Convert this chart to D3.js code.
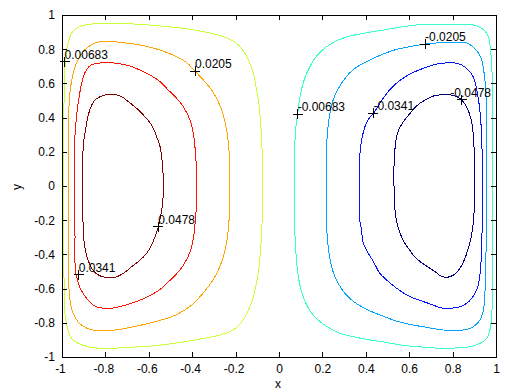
<!DOCTYPE html>
<html><head><meta charset="utf-8">
<script src="https://cdn.jsdelivr.net/npm/d3@7"></script>
<style>
html,body{margin:0;padding:0;background:#fff;}
svg{display:block;font-family:"Liberation Sans",Arial,Helvetica,sans-serif;}
</style></head><body>
<svg id="chart" width="510" height="392"></svg>
<script>
// ---- axis ticks ----
const xTicks = [-1,-0.8,-0.6,-0.4,-0.2,0,0.2,0.4,0.6,0.8,1];
const xTickLabels = ["-1","-0.8","-0.6","-0.4","-0.2","0","0.2","0.4","0.6","0.8","1"];
const yTicks = [-1,-0.8,-0.6,-0.4,-0.2,0,0.2,0.4,0.6,0.8,1];
const yTickLabels = ["-1","-0.8","-0.6","-0.4","-0.2","0","0.2","0.4","0.6","0.8","1"];
const xLabel = "x";
const yLabel = "y";

// ---- contour levels and colours (jet) ----
const levels = [0.0478, 0.0341, 0.0205, 0.00683, -0.00683, -0.0205, -0.0341, -0.0478];
const levelColors = ["#800000","#ff1200","#ffa400","#c9ff36","#36ffc9","#00a4ff","#0012ff","#000080"];

// ---- contour loops, [x, y] in data units ----
const contourP0478 = [[-0.903,-0.218],[-0.906,0],[-0.905,0.152],[-0.899,0.269],[-0.889,0.347],[-0.879,0.415],[-0.863,0.474],[-0.848,0.503],[-0.825,0.522],[-0.794,0.534],[-0.760,0.536],[-0.725,0.522],[-0.694,0.493],[-0.656,0.454],[-0.625,0.415],[-0.598,0.376],[-0.579,0.337],[-0.564,0.289],[-0.548,0.230],[-0.541,0.172],[-0.535,0.094],[-0.533,0],[-0.536,-0.101],[-0.545,-0.170],[-0.556,-0.238],[-0.571,-0.296],[-0.587,-0.345],[-0.610,-0.394],[-0.648,-0.442],[-0.679,-0.472],[-0.717,-0.511],[-0.756,-0.534],[-0.802,-0.534],[-0.833,-0.520],[-0.856,-0.495],[-0.874,-0.452],[-0.889,-0.394],[-0.899,-0.316]];
const contourP0341 = [[-0.940,-0.30],[-0.942,0],[-0.940,0.30],[-0.930,0.44],[-0.920,0.53],[-0.911,0.591],[-0.903,0.630],[-0.888,0.678],[-0.865,0.708],[-0.834,0.718],[-0.790,0.721],[-0.733,0.715],[-0.687,0.702],[-0.641,0.678],[-0.594,0.649],[-0.548,0.610],[-0.510,0.561],[-0.472,0.513],[-0.441,0.464],[-0.410,0.386],[-0.395,0.308],[-0.386,0.211],[-0.380,0.074],[-0.379,-0.074],[-0.386,-0.211],[-0.395,-0.308],[-0.410,-0.386],[-0.441,-0.464],[-0.472,-0.513],[-0.510,-0.561],[-0.548,-0.605],[-0.594,-0.640],[-0.641,-0.668],[-0.702,-0.695],[-0.763,-0.713],[-0.800,-0.715],[-0.834,-0.710],[-0.857,-0.696],[-0.880,-0.667],[-0.903,-0.628],[-0.919,-0.589],[-0.929,-0.550],[-0.938,-0.491],[-0.941,-0.374]];
const contourP0205 = [[-0.970,-0.40],[-0.971,0],[-0.970,0.40],[-0.962,0.561],[-0.952,0.639],[-0.945,0.678],[-0.934,0.717],[-0.919,0.756],[-0.896,0.795],[-0.865,0.825],[-0.826,0.844],[-0.788,0.846],[-0.733,0.840],[-0.641,0.825],[-0.548,0.795],[-0.472,0.756],[-0.425,0.721],[-0.387,0.672],[-0.349,0.620],[-0.310,0.561],[-0.280,0.493],[-0.257,0.415],[-0.241,0.327],[-0.232,0.230],[-0.227,0.113],[-0.226,0],[-0.227,-0.113],[-0.232,-0.230],[-0.241,-0.327],[-0.257,-0.415],[-0.280,-0.493],[-0.310,-0.561],[-0.349,-0.625],[-0.402,-0.696],[-0.472,-0.752],[-0.548,-0.786],[-0.641,-0.815],[-0.733,-0.838],[-0.788,-0.846],[-0.834,-0.846],[-0.872,-0.838],[-0.903,-0.819],[-0.926,-0.794],[-0.941,-0.764],[-0.954,-0.725],[-0.963,-0.667],[-0.969,-0.569]];
const contourP0068 = [[-0.992,-0.45],[-0.993,-0.2],[-0.993,0.2],[-0.991,0.45],[-0.990,0.561],[-0.988,0.639],[-0.985,0.717],[-0.980,0.776],[-0.976,0.815],[-0.968,0.854],[-0.957,0.893],[-0.941,0.916],[-0.911,0.936],[-0.865,0.947],[-0.803,0.951],[-0.733,0.951],[-0.641,0.945],[-0.548,0.936],[-0.441,0.922],[-0.364,0.906],[-0.287,0.885],[-0.226,0.858],[-0.187,0.825],[-0.157,0.776],[-0.134,0.717],[-0.118,0.659],[-0.106,0.581],[-0.095,0.503],[-0.088,0.425],[-0.080,0.269],[-0.077,0.172],[-0.075,0.074],[-0.075,-0.074],[-0.077,-0.172],[-0.080,-0.269],[-0.088,-0.425],[-0.095,-0.503],[-0.106,-0.581],[-0.118,-0.647],[-0.134,-0.705],[-0.157,-0.765],[-0.185,-0.815],[-0.222,-0.850],[-0.287,-0.876],[-0.364,-0.895],[-0.441,-0.912],[-0.518,-0.926],[-0.594,-0.936],[-0.671,-0.942],[-0.750,-0.948],[-0.803,-0.950],[-0.865,-0.944],[-0.896,-0.934],[-0.926,-0.920],[-0.949,-0.901],[-0.965,-0.871],[-0.976,-0.823],[-0.985,-0.764],[-0.988,-0.667]];
const contourM0068 = [[0.072,-0.218],[0.071,0],[0.072,0.211],[0.078,0.347],[0.086,0.421],[0.094,0.503],[0.105,0.571],[0.120,0.635],[0.140,0.692],[0.165,0.747],[0.197,0.791],[0.243,0.834],[0.304,0.869],[0.389,0.893],[0.481,0.912],[0.573,0.932],[0.665,0.945],[0.742,0.947],[0.820,0.946],[0.895,0.942],[0.934,0.922],[0.957,0.893],[0.969,0.854],[0.975,0.795],[0.980,0.717],[0.984,0.561],[0.986,0.30],[0.986,0],[0.985,-0.374],[0.983,-0.667],[0.980,-0.764],[0.972,-0.842],[0.957,-0.891],[0.926,-0.920],[0.880,-0.940],[0.800,-0.948],[0.742,-0.949],[0.665,-0.942],[0.573,-0.932],[0.481,-0.912],[0.404,-0.897],[0.327,-0.877],[0.273,-0.858],[0.235,-0.832],[0.189,-0.793],[0.151,-0.745],[0.120,-0.675],[0.100,-0.600],[0.087,-0.511],[0.077,-0.374]];
const contourM0205 = [[0.221,-0.269],[0.220,0],[0.221,0.269],[0.226,0.347],[0.235,0.425],[0.247,0.493],[0.266,0.552],[0.293,0.610],[0.324,0.659],[0.366,0.702],[0.419,0.737],[0.481,0.772],[0.542,0.799],[0.604,0.815],[0.673,0.830],[0.742,0.838],[0.803,0.842],[0.850,0.840],[0.872,0.834],[0.895,0.811],[0.918,0.780],[0.934,0.737],[0.942,0.688],[0.949,0.620],[0.953,0.561],[0.956,0.30],[0.957,0],[0.955,-0.30],[0.953,-0.45],[0.949,-0.628],[0.942,-0.725],[0.926,-0.784],[0.895,-0.823],[0.865,-0.838],[0.819,-0.846],[0.742,-0.840],[0.673,-0.825],[0.604,-0.810],[0.542,-0.790],[0.481,-0.762],[0.419,-0.730],[0.366,-0.695],[0.324,-0.655],[0.293,-0.610],[0.266,-0.552],[0.247,-0.493],[0.235,-0.425],[0.226,-0.347]];
const contourM0341 = [[0.372,-0.20],[0.370,0],[0.372,0.113],[0.373,0.191],[0.381,0.269],[0.396,0.347],[0.412,0.390],[0.435,0.425],[0.458,0.468],[0.480,0.513],[0.512,0.565],[0.558,0.618],[0.604,0.655],[0.665,0.688],[0.727,0.713],[0.788,0.721],[0.803,0.721],[0.842,0.708],[0.872,0.678],[0.895,0.639],[0.905,0.600],[0.913,0.550],[0.922,0.480],[0.930,0.380],[0.936,0.20],[0.938,0],[0.936,-0.20],[0.934,-0.374],[0.923,-0.550],[0.911,-0.608],[0.888,-0.657],[0.865,-0.686],[0.834,-0.706],[0.788,-0.715],[0.742,-0.712],[0.711,-0.696],[0.665,-0.676],[0.604,-0.647],[0.542,-0.598],[0.496,-0.550],[0.465,-0.511],[0.435,-0.442],[0.412,-0.394],[0.389,-0.335],[0.378,-0.238]];
const contourM0478 = [[0.531,-0.10],[0.530,0],[0.530,0.113],[0.533,0.191],[0.539,0.269],[0.551,0.327],[0.573,0.376],[0.604,0.425],[0.634,0.468],[0.673,0.503],[0.711,0.526],[0.750,0.534],[0.788,0.534],[0.819,0.522],[0.842,0.503],[0.862,0.468],[0.877,0.425],[0.889,0.366],[0.896,0.288],[0.900,0.191],[0.902,0.074],[0.902,-0.074],[0.899,-0.150],[0.892,-0.250],[0.882,-0.320],[0.870,-0.374],[0.855,-0.430],[0.834,-0.481],[0.811,-0.515],[0.788,-0.530],[0.770,-0.534],[0.745,-0.526],[0.719,-0.501],[0.680,-0.468],[0.650,-0.442],[0.619,-0.404],[0.596,-0.364],[0.576,-0.326],[0.558,-0.277],[0.542,-0.209],[0.533,-0.121]];
const contourLoops = [contourP0478, contourP0341, contourP0205, contourP0068, contourM0068, contourM0205, contourM0341, contourM0478];

// ---- contour labels (clabel '+' markers) ----
const labelTexts = ["0.00683","0.0205","0.0341","0.0478","-0.00683","-0.0205","-0.0341","-0.0478"];
const labelX = [-0.988,-0.387,-0.923,-0.556,0.086,0.673,0.435,0.842];
const labelY = [0.727,0.672,-0.520,-0.238,0.421,0.830,0.425,0.503];

// ---- layout ----
const W = 510, H = 392;
const plot = {left: 62, right: 496, top: 15, bottom: 357};
const svg = d3.select("#chart");

const x = d3.scaleLinear().domain([-1, 1]).range([plot.left, plot.right]);
const y = d3.scaleLinear().domain([-1, 1]).range([plot.bottom, plot.top]);

svg.append("rect").attr("width", W).attr("height", H).attr("fill", "#fff");

// contours
const line = d3.line().x(d => x(d[0])).y(d => y(d[1])).curve(d3.curveCatmullRomClosed.alpha(0.5));
svg.append("g").selectAll("path").data(contourLoops).join("path")
  .attr("d", d => line(d))
  .attr("fill", "none")
  .attr("stroke", (d, i) => levelColors[i])
  .attr("stroke-width", 1)
  .attr("shape-rendering", "crispEdges");

// labels (text kept inside the axes like clabel does)
const lab = svg.append("g");
labelTexts.forEach((t, i) => {
  const px = x(labelX[i]), py = y(labelY[i]);
  lab.append("path")
    .attr("d", `M${px - 5},${py}H${px + 5}M${px},${py - 5}V${py + 5}`)
    .attr("stroke", "#000").attr("stroke-width", 1).attr("shape-rendering", "crispEdges");
  const tx = lab.append("text").attr("x", px).attr("y", py - 3)
    .attr("font-size", 12).attr("fill", "#000").text(t);
  const w = tx.node().getComputedTextLength();
  if (px + w > plot.right - 4) tx.attr("x", plot.right - 5 - w);
});

// axes
const fmtX = d => xTickLabels[xTicks.indexOf(d)];
const fmtY = d => yTickLabels[yTicks.indexOf(d)];
const gx = svg.append("g").attr("transform", `translate(0,${plot.bottom})`)
  .call(d3.axisBottom(x).tickValues(xTicks).tickFormat(fmtX).tickSizeInner(-5).tickSizeOuter(0).tickPadding(7));
gx.selectAll("text").attr("dx", d => d < 0 ? "-0.17em" : 0);
const gy = svg.append("g").attr("transform", `translate(${plot.left},0)`)
  .call(d3.axisLeft(y).tickValues(yTicks).tickFormat(fmtY).tickSizeInner(-5).tickSizeOuter(0).tickPadding(7));
const gt = svg.append("g").attr("transform", `translate(0,${plot.top})`)
  .call(d3.axisTop(x).tickValues(xTicks).tickFormat("").tickSizeInner(-5).tickSizeOuter(0));
const gr = svg.append("g").attr("transform", `translate(${plot.right},0)`)
  .call(d3.axisRight(y).tickValues(yTicks).tickFormat("").tickSizeInner(-5).tickSizeOuter(0));
[gx, gy, gt, gr].forEach(g => {
  g.selectAll("text").attr("font-size", 12).attr("font-family", "'Liberation Sans',Arial,sans-serif").attr("fill", "#000");
  g.selectAll("line").attr("stroke", "#000").attr("shape-rendering", "crispEdges");
  g.select(".domain").attr("stroke", "#000").attr("shape-rendering", "crispEdges");
});

// axis titles
svg.append("text").attr("x", (plot.left + plot.right) / 2 - 1).attr("y", 388)
  .attr("text-anchor", "middle").attr("font-size", 12).text(xLabel);
svg.append("text").attr("transform", `translate(21,${(plot.top + plot.bottom) / 2 + 1}) rotate(-90)`)
  .attr("text-anchor", "middle").attr("font-size", 12).text(yLabel);
</script>
</body></html>
